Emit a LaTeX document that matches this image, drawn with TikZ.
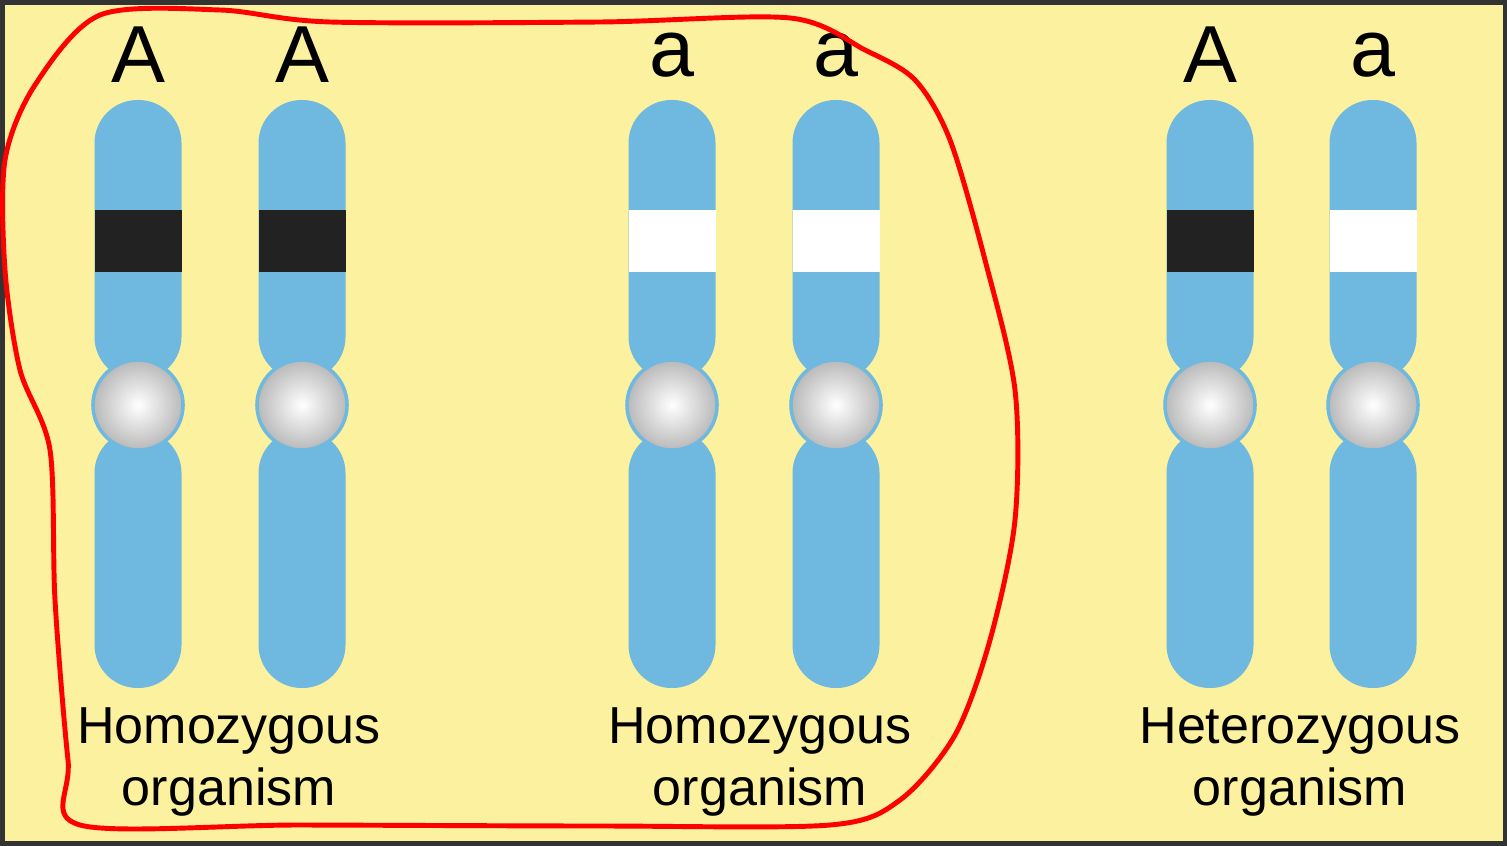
\documentclass[tikz,border=0pt]{standalone}
\usepackage{fontspec}
\setmainfont{Liberation Sans}
\begin{document}
\begin{tikzpicture}[x=0.01cm,y=-0.01cm,
  arm/.style={fill=chromo,draw=none,rounded corners=0.43cm},
  cen/.style={circle,minimum size=0.9cm,inner sep=0,draw=chromo,line width=1pt,inner color=white,outer color=gray!55},
  lab/.style={font=\fontsize{23pt}{23pt}\selectfont},
  captxt/.style={font=\fontsize{14.8pt}{17.8pt}\selectfont,align=center}]
\definecolor{bg}{HTML}{FCF19E}
\definecolor{chromo}{HTML}{6FB8E0}
\definecolor{band}{HTML}{222222}
\useasboundingbox (0,0) rectangle (1507,846);
\fill[bg] (0,0) rectangle (1507,846);
\draw[black!80,line width=2pt] (1,1) rectangle (1506,845);
\foreach \x/\n/\c/\l in {138/a1/band/A,302/a2/band/A,672/b1/white/a,836/b2/white/a,1210/c1/band/A,1373/c2/white/a}{
  \fill[arm] (\x-43.5,100) rectangle (\x+43.5,380);
  \fill[arm] (\x-43.5,430) rectangle (\x+43.5,688);
  \fill[\c] (\x-43.5,210) rectangle (\x+43.5,272);
  \node[cen] (\n) at (\x,405) {};
  \node[lab] (\n l) at (\x,55) {\l};
}
\node[captxt] (t1) at (229,762) {Homozygous\\organism};
\node[captxt] (t2) at (760,762) {Homozygous\\organism};
\node[captxt] (t3) at (1300,762) {Heterozygous\\organism};
\draw[red,line width=1.4pt] plot[smooth cycle,tension=0.5] coordinates{
(5,160)(35,85)(100,15)(220,10)(330,22)(600,22)(790,18)(865,50)(915,80)(950,140)(985,260)(1015,390)(1015,520)(990,640)(955,735)(900,800)(830,825)(600,826)(300,825)(80,825)(68,760)(55,600)(50,450)(20,370)(5,270)};
\end{tikzpicture}
\end{document}
